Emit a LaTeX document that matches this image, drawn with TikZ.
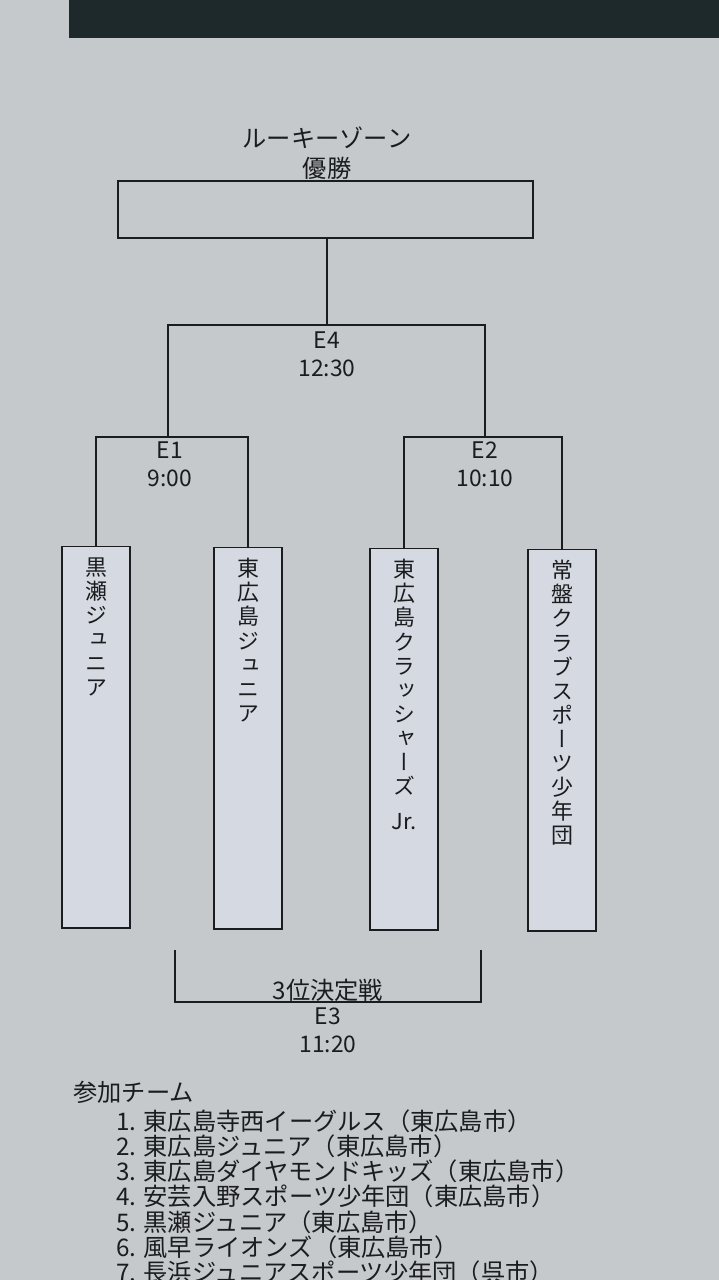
\documentclass[tikz,border=0pt]{standalone}
\usepackage{fontspec}
\setmainfont{Noto Sans CJK JP}
\newfontfamily\tatefont[RawFeature=+vert]{Noto Sans CJK JP}
\usetikzlibrary{positioning}
\definecolor{paper}{HTML}{C6C9CC}
\definecolor{board}{HTML}{1E292B}
\definecolor{strip}{HTML}{D4D9E2}
\definecolor{ink}{HTML}{1A1C1E}

\begin{document}
\begin{tikzpicture}[x=0.02cm,y=-0.02cm,line width=1.5pt,
    team/.style={draw=ink,line width=0.6pt,fill=strip,minimum width=1.36cm,minimum height=7.64cm,inner sep=0pt},
    tate/.style={text=ink,align=center,inner sep=0pt,font=\tatefont\fontsize{12.5}{13.7}\selectfont},
    time/.style={text=ink,align=center,inner sep=0pt,font=\fontsize{13}{15.8}\selectfont},
    txt/.style={text=ink,inner sep=0pt,font=\fontsize{13.8}{15}\selectfont}]
  \useasboundingbox (0,0) rectangle (719,1280);
  \clip (0,0) rectangle (719,1280);
  \fill[paper] (0,0) rectangle (719,1280);
  \fill[board] (69,0) rectangle (719,38);

  % title and champion box
  \node[txt] (title) at (327,138) {ルーキーゾーン};
  \node[txt] (win) at (327,168) {優勝};
  \node[draw=ink,minimum width=8.3cm,minimum height=1.14cm] (champ) at (325.5,209.5) {};

  % team strips
  \node[team] (s1) at (96,737) {};
  \node[team] (s2) at (248,738) {};
  \node[team] (s3) at (404,739) {};
  \node[team] (s4) at (562,740) {};
  \node[tate,below=6pt of s1.north] (n1) {黒\\瀬\\ジ\\ュ\\ニ\\ア};
  \node[tate,below=6pt of s2.north] (n2) {東\\広\\島\\ジ\\ュ\\ニ\\ア};
  \node[tate,below=6pt of s3.north] (n3) {東\\広\\島\\ク\\ラ\\ッ\\シ\\ャ\\ー\\ズ\\[6pt]{\normalfont Jr.}};
  \node[tate,below=6pt of s4.north] (n4) {常\\盤\\ク\\ラ\\ブ\\ス\\ポ\\ー\\ツ\\少\\年\\団};

  % bracket
  \coordinate (m1) at (168,437);
  \coordinate (m2) at (485,437);
  \coordinate (m4) at (327,325);
  \draw[ink] (s1.north) |- (m1) -| (s2.north);
  \draw[ink] (s3.north) |- (m2) -| (s4.north);
  \draw[ink] (m1) |- (m4) -| (m2);
  \draw[ink] (m4) -- (m4 |- champ.south);
  \node[time] (e1) at (170,464) {E1\\9:00};
  \node[time] (e2) at (485,464) {E2\\10:10};
  \node[time] (e4) at (327,354) {E4\\12:30};

  % third place
  \coordinate (t1) at (175,950);
  \coordinate (t2) at (481,950);
  \coordinate (m3) at (328,1002);
  \draw[ink] (t1) |- (m3) -| (t2);
  \node[txt] (third) at (328,990) {3位決定戦};
  \node[time] (e3) at (328,1030) {E3\\11:20};

  % entry list
  \node[txt,anchor=west] (entry) at (72,1092) {参加チーム};
  \foreach \i/\t in {1/東広島寺西イーグルス（東広島市）,2/東広島ジュニア（東広島市）,3/東広島ダイヤモンドキッズ（東広島市）,4/安芸入野スポーツ少年団（東広島市）,5/黒瀬ジュニア（東広島市）,6/風早ライオンズ（東広島市）,7/長浜ジュニアスポーツ少年団（呉市）}
    {\node[txt,anchor=west] (item\i) at (115,{1121+25.2*(\i-1)}) {\i. \t};}
\end{tikzpicture}
\end{document}
